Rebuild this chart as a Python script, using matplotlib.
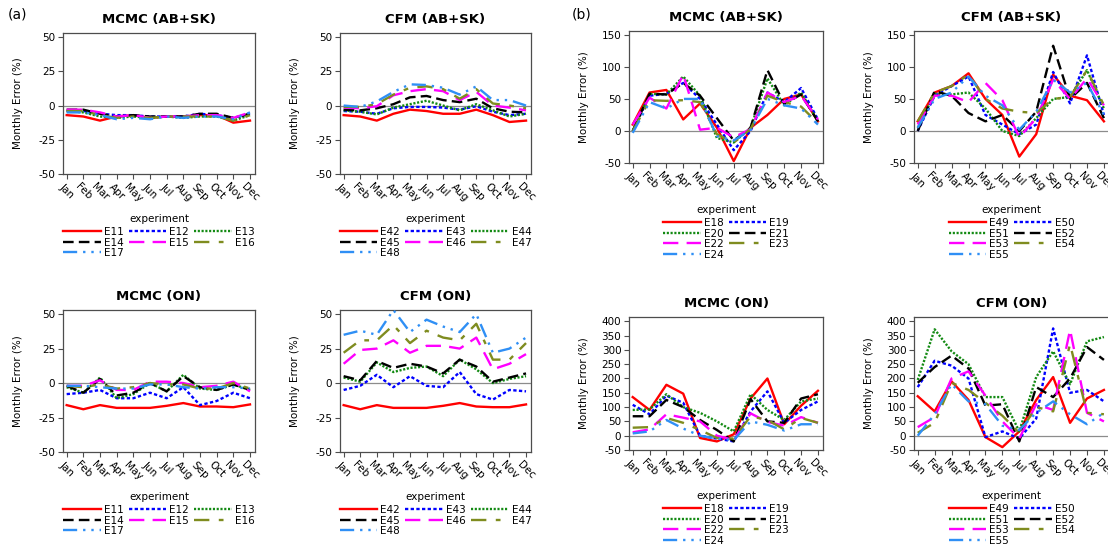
#!/usr/bin/env python3
"""Monthly error panels for MCMC and CFM calibrations (AB+SK and ON)."""

import matplotlib

matplotlib.use("Agg")

import matplotlib.pyplot as plt

MONTHS = ["Jan", "Feb", "Mar", "Apr", "May", "Jun", "Jul", "Aug", "Sep", "Oct", "Nov", "Dec"]

# (a) MCMC, AB+SK
MCMC_ABSK_A = {
    "E11": [-7, -8, -11, -8, -7, -9, -8, -8, -7, -7, -12.5, -11],
    "E12": [-4, -4, -6, -7, -7, -8, -8, -8, -6, -7, -9, -6],
    "E13": [-4, -5, -8, -9, -8, -9, -8, -9, -8, -8, -11, -7],
    "E14": [-3, -3, -6, -8, -7, -8, -8, -8, -6, -6, -9, -6],
    "E15": [-3, -3, -5, -8, -7, -9, -8, -8, -7, -7, -9, -5],
    "E16": [-4, -4, -7, -9, -8, -9, -8, -8, -8, -8, -11, -7],
    "E17": [-5, -5, -7, -10, -9, -10, -8, -9, -8, -8, -10, -5],
}
# (a) CFM, AB+SK
CFM_ABSK_A = {
    "E42": [-7, -8, -11, -6, -3, -4, -6, -6, -3, -7, -12, -11],
    "E43": [-4, -4.5, -6, -2, -1, -1, -1.5, -3, -0.5, -4.5, -7, -6],
    "E44": [-3.5, -4.5, -6.5, -1.5, 1, 3.5, 0, -3.5, 1, -3.5, -8, -6],
    "E45": [-3, -3.5, -2, 1, 6, 7, 4, 2.5, 5, -2, -4.5, -5],
    "E46": [-1.5, -2, -0.5, 7.5, 10.5, 12, 10.5, 4, 10, 0, -1.5, -3.5],
    "E47": [-1, -1, 1, 8, 13, 14, 12, 5, 12, 1.5, 0, -2],
    "E48": [0, -1, 3, 10, 15.5, 15, 13, 8, 14, 4, 4, 0],
}
# (a) MCMC, ON
MCMC_ON_A = {
    "E11": [-16, -19, -16, -18, -18, -18, -16.5, -14.5, -17, -17, -17.5, -15.5],
    "E12": [-8, -7, -5, -11, -11, -7, -11, -3, -16, -13, -7, -11],
    "E13": [-3, -7, 4, -11, -8, 0, -6, 6, -4, -5, -1, -5],
    "E14": [-2, -7, 3, -9, -7, 0, -6, 5, -3, -5, -1, -5],
    "E15": [-2, -2, 2, -5, -5, 1, 1, 0, -3, -2, 1, -6],
    "E16": [-2, -3, -1, -4, -3, 0, -1, -1, -4, -4, 0, -4],
    "E17": [-2, -2, -3, -4, -4, -1, -1, -3, -4, -3, -3, -4],
}
# (a) CFM, ON
CFM_ON_A = {
    "E42": [-16, -19, -16, -18, -18, -18, -16.5, -14.5, -17, -17.5, -17.5, -15.5],
    "E43": [-5, -2, 6, -3, 5, -2, -3, 8, -8, -12, -5, -6],
    "E44": [4, 1, 15, 8, 11, 12, 5, 17, 10, 0, 3, 5],
    "E45": [5, 2, 16, 11, 14, 12, 7, 17, 12, 1, 4, 7],
    "E46": [14, 24, 25, 31, 22, 27, 27, 25, 33, 10, 14, 21],
    "E47": [22, 31, 31, 42, 29, 38, 33, 31, 43, 17, 17, 29],
    "E48": [35, 38, 35, 53, 37, 46, 41, 37, 50, 22, 25, 33],
}
# (b) MCMC, AB+SK
MCMC_ABSK_B = {
    "E18": [10, 60, 64, 18, 43, 5, -47, 5, 25, 50, 57, 15],
    "E19": [0, 55, 58, 75, 50, 10, -30, 0, 60, 45, 67, 18],
    "E20": [0, 58, 57, 85, 55, -11, -18, 5, 82, 40, 60, 15],
    "E21": [0, 58, 57, 75, 55, 20, -15, 5, 95, 42, 57, 15],
    "E22": [10, 52, 35, 88, 2, 5, -10, 3, 60, 45, 55, 18],
    "E23": [0, 48, 47, 48, 45, -5, -18, 3, 55, 45, 38, 12],
    "E24": [-3, 45, 35, 50, 50, -8, -15, 2, 50, 40, 35, 10],
}
# (b) CFM, AB+SK
CFM_ABSK_B = {
    "E49": [15, 60, 70, 90, 50, 25, -40, -5, 88, 55, 48, 15],
    "E50": [0, 55, 70, 85, 25, 10, -5, 10, 92, 43, 118, 25],
    "E51": [5, 58, 57, 60, 35, 0, -8, 20, 50, 53, 95, 35],
    "E52": [0, 62, 55, 28, 15, 25, 0, 30, 133, 50, 75, 20],
    "E53": [10, 55, 55, 45, 75, 48, -10, 20, 80, 50, 82, 40],
    "E54": [15, 60, 70, 88, 50, 35, 30, 28, 50, 53, 95, 40],
    "E55": [5, 50, 60, 85, 55, 40, 2, 30, 80, 60, 75, 25],
}
# (b) MCMC, ON
MCMC_ON_B = {
    "E18": [135, 90, 178, 147, -8, -20, 5, 130, 200, 40, 105, 157],
    "E19": [108, 75, 140, 115, 0, -10, -20, 85, 155, 45, 90, 120],
    "E20": [90, 92, 145, 100, 80, 50, 15, 145, 90, 55, 120, 130],
    "E21": [68, 68, 125, 100, 55, 20, -20, 128, 50, 45, 130, 145],
    "E22": [12, 22, 75, 63, 50, 0, -15, 78, 48, 35, 65, 45],
    "E23": [28, 30, 62, 45, 20, -8, -10, 68, 55, 22, 62, 45],
    "E24": [8, 15, 55, 25, 0, -10, -15, 50, 38, 18, 40, 40],
}
# (b) CFM, ON
CFM_ON_B = {
    "E49": [138, 85, 190, 125, -5, -40, 15, 125, 205, 45, 130, 160],
    "E50": [170, 262, 245, 200, -5, 15, -10, 60, 375, 150, 160, 120],
    "E51": [195, 372, 295, 250, 135, 135, 15, 205, 295, 180, 330, 345],
    "E52": [185, 240, 280, 235, 105, 110, -20, 170, 135, 200, 310, 265],
    "E53": [30, 65, 200, 225, 140, 50, -10, 110, 90, 370, 80, 50],
    "E54": [10, 45, 185, 160, 115, 70, 10, 100, 85, 320, 80, 75],
    "E55": [0, 75, 180, 120, 110, 35, 20, 80, 120, 75, 40, 80],
}

YTICKS_A = [-50, -25, 0, 25, 50]
YTICKS_B_TOP = [-50, 0, 50, 100, 150]
YTICKS_B_BOTTOM = [-50, 0, 50, 100, 150, 200, 250, 300, 350, 400]

# colour and dash pattern per experiment slot (same order in every panel)
SERIES_STYLES = [
    ("#ff0000", "solid"),
    ("#0000ff", (0, (1.4, 1.0))),
    ("#138a13", (0, (0.9, 0.7))),
    ("#000000", (0, (4.5, 2.2))),
    ("#ff00ff", (0, (6.5, 3.5))),
    ("#7f8c1f", (0, (6.5, 4.0, 2.0, 4.0))),
    ("#2f8ff5", (0, (6.0, 2.5, 1.0, 2.5, 1.0, 2.5))),
]

W, H = 1108, 550

# (data, title, yticks, ylim, axes box in px [left, right, top, bottom], legend top px, ncol)
PANELS = [
    (MCMC_ABSK_A, "MCMC (AB+SK)", YTICKS_A, (-50, 53), (63, 255, 33, 174), 209, 3),
    (CFM_ABSK_A, "CFM (AB+SK)", YTICKS_A, (-50, 53), (340, 531, 33, 174), 209, 3),
    (MCMC_ON_A, "MCMC (ON)", YTICKS_A, (-50, 53), (63, 255, 310, 452), 487, 3),
    (CFM_ON_A, "CFM (ON)", YTICKS_A, (-50, 53), (340, 531, 310, 452), 487, 3),
    (MCMC_ABSK_B, "MCMC (AB+SK)", YTICKS_B_TOP, (-50, 156), (629, 823, 31, 163), 200, 2),
    (CFM_ABSK_B, "CFM (AB+SK)", YTICKS_B_TOP, (-50, 156), (914, 1109, 31, 163), 200, 2),
    (MCMC_ON_B, "MCMC (ON)", YTICKS_B_BOTTOM, (-50, 415), (629, 823, 317, 450), 486, 2),
    (CFM_ON_B, "CFM (ON)", YTICKS_B_BOTTOM, (-50, 415), (914, 1109, 317, 450), 486, 2),
]

FRAME_COLOR = "#4d4d4d"
FS = 7.5


def row_major(items, ncol):
    # matplotlib fills legend columns first; reorder so entries read across rows
    out = []
    for c in range(ncol):
        out.extend(items[c::ncol])
    return out


def draw_panel(fig, data, title, yticks, ylim, box, legend_top, ncol):
    left, right, top, bottom = box
    ax = fig.add_axes([left / W, 1 - bottom / H, (right - left) / W, (bottom - top) / H])
    x = list(range(1, len(MONTHS) + 1))
    ax.axhline(0, color="#8c8c8c", linewidth=0.9, zorder=1)
    handles = []
    names = list(data.keys())
    for i, name in enumerate(names):
        color, ls = SERIES_STYLES[i]
        (line,) = ax.plot(x, data[name], color=color, linestyle=ls, linewidth=1.7,
                          label=name, zorder=2 + i)
        handles.append(line)

    ax.set_xlim(0.78, 12.3)
    ax.set_ylim(*ylim)
    ax.set_xticks(x)
    ax.set_xticklabels(MONTHS, rotation=-45, ha="center", va="top", fontsize=FS)
    ax.set_yticks(yticks)
    ax.set_yticklabels([str(v) for v in yticks], fontsize=FS)
    ax.tick_params(axis="both", direction="out", length=3.5, width=0.8,
                   color=FRAME_COLOR, pad=2)
    for spine in ax.spines.values():
        spine.set_color(FRAME_COLOR)
        spine.set_linewidth(0.9)
    ax.set_title(title, fontsize=9.5, fontweight="bold", pad=7)
    ax.set_ylabel("Monthly Error (%)", fontsize=FS)
    ax.yaxis.set_label_coords(-40 / (right - left), 0.5)

    ordered = row_major(list(zip(handles, names)), ncol)
    leg = ax.legend(
        [h for h, _ in ordered],
        [n for _, n in ordered],
        ncol=ncol,
        loc="upper center",
        bbox_to_anchor=((left + right) / 2 / W, 1 - legend_top / H),
        bbox_transform=fig.transFigure,
        title="experiment",
        fontsize=FS,
        title_fontsize=FS,
        frameon=False,
        handlelength=3.6,
        handletextpad=0.3,
        columnspacing=0.5,
        labelspacing=0.05,
        borderpad=0,
    )
    leg._legend_box.sep = 2
    return ax


def main():
    plt.rcParams["axes.unicode_minus"] = False
    plt.rcParams["font.family"] = ["DejaVu Sans"]
    fig = plt.figure(figsize=(W / 100, H / 100), dpi=100)
    for panel in PANELS:
        draw_panel(fig, *panel)
    fig.text(8 / W, 1 - 8 / H, "(a)", fontsize=10, ha="left", va="top")
    fig.text(572 / W, 1 - 8 / H, "(b)", fontsize=10, ha="left", va="top")
    fig.savefig("out.png", dpi=100)
    plt.close(fig)


if __name__ == "__main__":
    main()
